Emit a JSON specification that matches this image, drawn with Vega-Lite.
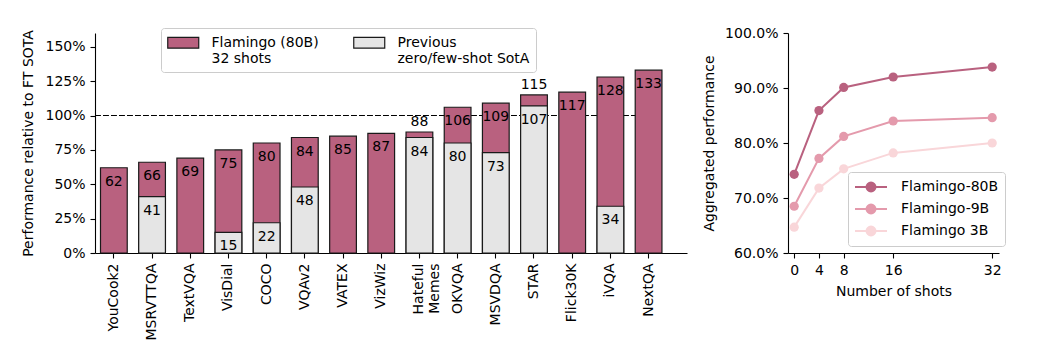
{
  "$schema": "https://vega.github.io/schema/vega-lite/v6.json",
  "padding": {"left": 21, "top": 26, "right": 5, "bottom": 5},
  "background": "white",
  "bounds": "flush",
  "spacing": 101,
  "config": {
    "font": "DejaVu Sans",
    "view": {"stroke": null},
    "axis": {
      "labelFont": "DejaVu Sans", "labelFontSize": 14, "labelColor": "black",
      "titleFont": "DejaVu Sans", "titleFontSize": 14, "titleFontWeight": "normal", "titleColor": "black",
      "domainColor": "black", "domainWidth": 1.1, "tickColor": "black", "tickWidth": 1.1, "tickSize": 5,
      "labelPadding": 5, "grid": false
    },
    "legend": {
      "labelFont": "DejaVu Sans", "labelFontSize": 14, "labelColor": "black", "labelLimit": 400
    }
  },
  "resolve": {"scale": {"color": "independent"}, "legend": {"color": "independent"}},
  "hconcat": [
    {
      "width": 592,
      "height": 220,
      "data": {"values": [
        {"name": "YouCook2", "flamingo": 62, "prev": null},
        {"name": "MSRVTTQA", "flamingo": 66, "prev": 41},
        {"name": "TextVQA", "flamingo": 69, "prev": null},
        {"name": "VisDial", "flamingo": 75, "prev": 15},
        {"name": "COCO", "flamingo": 80, "prev": 22},
        {"name": "VQAv2", "flamingo": 84, "prev": 48},
        {"name": "VATEX", "flamingo": 85, "prev": null},
        {"name": "VizWiz", "flamingo": 87, "prev": null},
        {"name": "Hateful Memes", "flamingo": 88, "prev": 84},
        {"name": "OKVQA", "flamingo": 106, "prev": 80},
        {"name": "MSVDQA", "flamingo": 109, "prev": 73},
        {"name": "STAR", "flamingo": 115, "prev": 107},
        {"name": "Flick30K", "flamingo": 117, "prev": null},
        {"name": "iVQA", "flamingo": 128, "prev": 34},
        {"name": "NextQA", "flamingo": 133, "prev": null}
      ]},
      "encoding": {
        "x": {
          "field": "name", "type": "nominal", "sort": null,
          "scale": {
            "domain": ["YouCook2", "MSRVTTQA", "TextVQA", "VisDial", "COCO", "VQAv2", "VATEX", "VizWiz", "Hateful Memes", "OKVQA", "MSVDQA", "STAR", "Flick30K", "iVQA", "NextQA"],
            "paddingInner": 0.3, "paddingOuter": 0.4, "align": 0.18
          },
          "axis": {
            "title": null, "labelAngle": -90,
            "labelExpr": "datum.value == 'Hateful Memes' ? ['Hateful', 'Memes'] : datum.value",
            "labelLineHeight": 16
          }
        }
      },
      "layer": [
        {
          "mark": {"type": "rule", "strokeDash": [5, 3], "strokeWidth": 1.2, "color": "black"},
          "encoding": {
            "x": {"datum": "YouCook2", "bandPosition": -0.2},
            "x2": {"datum": "NextQA", "bandPosition": 0.5},
            "y": {
              "datum": 100, "type": "quantitative",
              "scale": {"domain": [0, 160], "nice": false},
              "axis": {"values": [0, 25, 50, 75, 100, 125, 150], "tickCount": 7, "labelExpr": "datum.value + '%'", "title": "Performance relative to FT SOTA", "titlePadding": 9, "labelPadding": 5}
            }
          }
        },
        {
          "mark": {"type": "bar", "stroke": "#1a1a1a", "strokeWidth": 1.2},
          "encoding": {
            "y": {
              "field": "flamingo", "type": "quantitative",
              "scale": {"domain": [0, 160], "nice": false},
              "axis": {"values": [0, 25, 50, 75, 100, 125, 150], "tickCount": 7, "labelExpr": "datum.value + '%'", "title": "Performance relative to FT SOTA", "titlePadding": 9, "labelPadding": 5}
            },
            "color": {
              "datum": "Flamingo (80B)|32 shots",
              "type": "nominal",
              "scale": {"domain": ["Flamingo (80B)|32 shots", "Previous|zero/few-shot SotA"], "range": ["#b9617f", "#e5e5e5"]},
              "legend": {
                "title": null, "orient": "none", "legendX": 66, "legendY": -5,
                "direction": "horizontal", "columns": 2, "columnPadding": 32,
                "labelExpr": "split(datum.label, '|')",
                "symbolType": "M-1,-0.7H3V0.7H-1Z", "symbolSize": 240,
                "symbolStrokeColor": "#1a1a1a", "symbolStrokeWidth": 1.2,
                "labelOffset": 27.5, "padding": 6,
                "fillColor": "white", "strokeColor": "#cccccc", "cornerRadius": 3,
                "encode": {"labels": {"update": {"lineHeight": {"value": 16}}}}
              }
            }
          }
        },
        {
          "transform": [{"filter": "isValid(datum.prev)"}],
          "mark": {"type": "bar", "stroke": "#1a1a1a", "strokeWidth": 1.2},
          "encoding": {
            "y": {
              "field": "prev", "type": "quantitative",
              "axis": {"values": [0, 25, 50, 75, 100, 125, 150], "tickCount": 7, "labelExpr": "datum.value + '%'", "title": "Performance relative to FT SOTA", "titlePadding": 9, "labelPadding": 5}
            },
            "color": {"datum": "Previous|zero/few-shot SotA", "type": "nominal"}
          }
        },
        {
          "transform": [{"filter": "!isValid(datum.prev) || datum.flamingo - datum.prev >= 10"}],
          "mark": {"type": "text", "baseline": "middle", "dy": 14, "fontSize": 14, "color": "black"},
          "encoding": {
            "y": {
              "field": "flamingo", "type": "quantitative",
              "axis": {"values": [0, 25, 50, 75, 100, 125, 150], "tickCount": 7, "labelExpr": "datum.value + '%'", "title": "Performance relative to FT SOTA", "titlePadding": 9, "labelPadding": 5}
            },
            "text": {"field": "flamingo", "type": "quantitative"}
          }
        },
        {
          "transform": [{"filter": "isValid(datum.prev) && datum.flamingo - datum.prev < 10"}],
          "mark": {"type": "text", "baseline": "middle", "dy": -10, "fontSize": 14, "color": "black"},
          "encoding": {
            "y": {
              "field": "flamingo", "type": "quantitative",
              "axis": {"values": [0, 25, 50, 75, 100, 125, 150], "tickCount": 7, "labelExpr": "datum.value + '%'", "title": "Performance relative to FT SOTA", "titlePadding": 9, "labelPadding": 5}
            },
            "text": {"field": "flamingo", "type": "quantitative"}
          }
        },
        {
          "transform": [{"filter": "isValid(datum.prev)"}],
          "mark": {"type": "text", "baseline": "middle", "dy": 14, "fontSize": 14, "color": "black"},
          "encoding": {
            "y": {
              "field": "prev", "type": "quantitative",
              "axis": {"values": [0, 25, 50, 75, 100, 125, 150], "tickCount": 7, "labelExpr": "datum.value + '%'", "title": "Performance relative to FT SOTA", "titlePadding": 9, "labelPadding": 5}
            },
            "text": {"field": "prev", "type": "quantitative"}
          }
        }
      ]
    },
    {
      "width": 211,
      "height": 220,
      "data": {"values": [
        {"model": "Flamingo-80B", "shots": 0, "perf": 74.3},
        {"model": "Flamingo-80B", "shots": 4, "perf": 85.9},
        {"model": "Flamingo-80B", "shots": 8, "perf": 90.1},
        {"model": "Flamingo-80B", "shots": 16, "perf": 92.0},
        {"model": "Flamingo-80B", "shots": 32, "perf": 93.8},
        {"model": "Flamingo-9B", "shots": 0, "perf": 68.5},
        {"model": "Flamingo-9B", "shots": 4, "perf": 77.2},
        {"model": "Flamingo-9B", "shots": 8, "perf": 81.2},
        {"model": "Flamingo-9B", "shots": 16, "perf": 84.0},
        {"model": "Flamingo-9B", "shots": 32, "perf": 84.6},
        {"model": "Flamingo 3B", "shots": 0, "perf": 64.7},
        {"model": "Flamingo 3B", "shots": 4, "perf": 71.8},
        {"model": "Flamingo 3B", "shots": 8, "perf": 75.3},
        {"model": "Flamingo 3B", "shots": 16, "perf": 78.2},
        {"model": "Flamingo 3B", "shots": 32, "perf": 80.0}
      ]},
      "mark": {"type": "line", "strokeWidth": 2, "point": {"filled": true, "size": 85}},
      "encoding": {
        "x": {
          "field": "shots", "type": "quantitative",
          "scale": {"domain": [-1, 33.1], "nice": false, "zero": false},
          "axis": {"values": [0, 4, 8, 16, 32], "title": "Number of shots", "labelPadding": 5, "titlePadding": 7}
        },
        "y": {
          "field": "perf", "type": "quantitative",
          "scale": {"domain": [60, 100], "nice": false, "zero": false},
          "axis": {"values": [60, 70, 80, 90, 100], "labelExpr": "format(datum.value, '.1f') + '%'", "title": "Aggregated performance", "titlePadding": 8, "labelPadding": 5}
        },
        "color": {
          "field": "model", "type": "nominal", "sort": null,
          "scale": {"domain": ["Flamingo-80B", "Flamingo-9B", "Flamingo 3B"], "range": ["#b9617f", "#e49aac", "#f9d6d9"]},
          "legend": {
            "title": null, "orient": "none", "legendX": 60, "legendY": 139,
            "symbolType": "M-1,0H3M1.56,0A0.56,0.56,0,1,1,0.44,0A0.56,0.56,0,1,1,1.56,0M1.34,0A0.34,0.34,0,1,1,0.66,0A0.34,0.34,0,1,1,1.34,0M1.12,0A0.12,0.12,0,1,1,0.88,0A0.12,0.12,0,1,1,1.12,0",
            "symbolSize": 256, "symbolStrokeWidth": 2,
            "labelOffset": 29, "padding": 6, "rowPadding": 4,
            "fillColor": "white", "strokeColor": "#cccccc", "cornerRadius": 3
          }
        }
      }
    }
  ]
}
